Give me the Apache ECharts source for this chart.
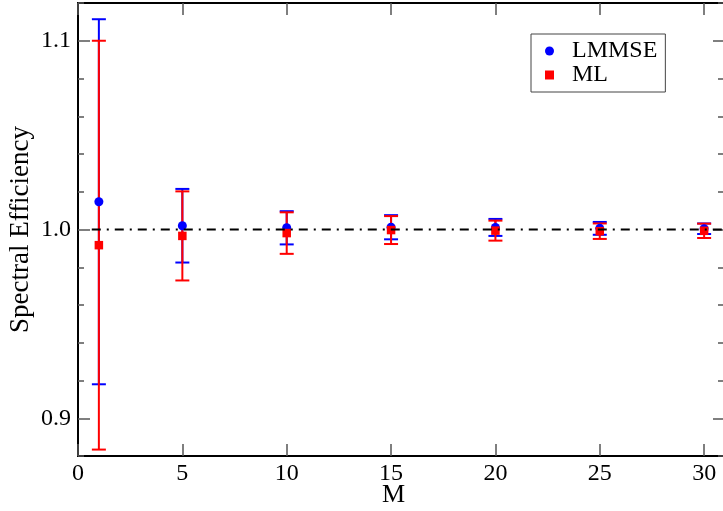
<!DOCTYPE html>
<html>
<head>
<meta charset="utf-8">
<script src="https://cdn.jsdelivr.net/npm/echarts@6/dist/echarts.min.js"></script>
<style>html,body{margin:0;padding:0;background:#fff;}#c{width:723px;height:511px;}</style>
</head>
<body>
<div id="c"></div>
<script>
// ---- data ----
const M = [1, 5, 10, 15, 20, 25, 30];
const lmmseMean = [1.0147, 1.0020, 1.0009, 1.0012, 1.0011, 1.0006, 1.0004];
const lmmseErr  = [0.0967, 0.0195, 0.0088, 0.0064, 0.0045, 0.0034, 0.0028];
const mlMean    = [0.9917, 0.9966, 0.9981, 0.9997, 0.9994, 0.9991, 0.9993];
const mlErr     = [0.1083, 0.0236, 0.0110, 0.0074, 0.0053, 0.0041, 0.0038];
const refM  = [0.66, 31];
const refSE = [1.0, 1.0];
const yTickVals = ['0.88','0.90','0.92','0.94','0.96','0.98','1.00','1.02','1.04','1.06','1.08','1.10','1.12'];
const yMajorVals = ['0.90','1.00','1.10'];
const yMajorLabels = ['0.9','1.0','1.1'];
const xTickInterval = 5;

const FONT = 'Liberation Serif';
const isMajor = (i, v) => yMajorVals.indexOf(v) >= 0;

function errRender(color) {
  return function (params, api) {
    const x = api.value(0), lo = api.value(1), hi = api.value(2);
    const pLo = api.coord([x, lo]), pHi = api.coord([x, hi]);
    const hw = 7;
    const style = { stroke: color, lineWidth: 2, fill: null };
    return {
      type: 'group',
      children: [
        { type: 'line', shape: { x1: pLo[0], y1: pLo[1], x2: pHi[0], y2: pHi[1] }, style: style },
        { type: 'line', shape: { x1: pLo[0] - hw, y1: pLo[1], x2: pLo[0] + hw, y2: pLo[1] }, style: style },
        { type: 'line', shape: { x1: pHi[0] - hw, y1: pHi[1], x2: pHi[0] + hw, y2: pHi[1] }, style: style }
      ]
    };
  };
}

const tickStyle = { color: '#555', width: 1.5 };
const frameLine = { show: true, lineStyle: { color: '#000', width: 2 } };

const chart = echarts.init(document.getElementById('c'), null, { renderer: 'canvas' });
chart.setOption({
  animation: false,
  backgroundColor: '#fff',
  grid: { left: 78, top: 3, right: -2, bottom: 55, containLabel: false, outerBoundsMode: 'none' },
  legend: {
    orient: 'vertical',
    left: 531, top: 34,
    padding: [5, 8, 5, 14],
    borderColor: '#444', borderWidth: 1,
    itemGap: 0,
    itemWidth: 9, itemHeight: 9,
    textStyle: { fontFamily: FONT, fontSize: 24, color: '#000', lineHeight: 21, padding: [0, 0, 0, 13] },
    data: [{ name: 'LMMSE', icon: 'circle' }, { name: 'ML', icon: 'rect' }]
  },
  xAxis: [
    {
      type: 'value', position: 'bottom', min: 0, max: 31, interval: xTickInterval,
      axisLine: frameLine,
      axisTick: { show: true, inside: true, length: 12, lineStyle: tickStyle },
      axisLabel: { fontFamily: FONT, fontSize: 24, color: '#000', margin: 6, showMaxLabel: false },
      splitLine: { show: false },
      name: 'M', nameLocation: 'middle', nameGap: 26, nameMoveOverlap: false,
      nameTextStyle: { fontFamily: FONT, fontSize: 26, color: '#000', padding: [0, 16, 0, 0] }
    },
    {
      type: 'value', position: 'top', min: 0, max: 31, interval: xTickInterval,
      axisLine: frameLine,
      axisTick: { show: true, inside: true, length: 12, lineStyle: tickStyle },
      axisLabel: { show: false },
      splitLine: { show: false }
    }
  ],
  yAxis: [
    {
      type: 'value', position: 'left', min: 0.88, max: 1.12, interval: 0.02,
      axisLine: frameLine,
      axisTick: { show: true, inside: true, length: 6, lineStyle: tickStyle },
      axisLabel: { show: false },
      splitLine: { show: false },
      name: 'Spectral Efficiency', nameLocation: 'middle', nameGap: 44, nameRotate: 90,
      nameTextStyle: { fontFamily: FONT, fontSize: 27, color: '#000' }
    },
    {
      type: 'category', position: 'left', boundaryGap: false, data: yTickVals,
      axisLine: frameLine,
      axisTick: { show: true, inside: true, length: 12, interval: isMajor, lineStyle: tickStyle },
      axisLabel: {
        interval: isMajor, margin: 7,
        fontFamily: FONT, fontSize: 24, color: '#000',
        formatter: v => yMajorLabels[yMajorVals.indexOf(v)]
      },
      splitLine: { show: false }
    },
    {
      type: 'value', position: 'right', min: 0.88, max: 1.12, interval: 0.02,
      axisLine: frameLine,
      axisTick: { show: true, inside: true, length: 7, lineStyle: tickStyle },
      axisLabel: { show: false },
      splitLine: { show: false }
    },
    {
      type: 'category', position: 'right', boundaryGap: false, data: yTickVals,
      axisLine: frameLine,
      axisTick: { show: true, inside: true, length: 12, interval: isMajor, lineStyle: tickStyle },
      axisLabel: { show: false },
      splitLine: { show: false }
    }
  ],
  series: [
    {
      name: 'ref', type: 'line', xAxisIndex: 0, yAxisIndex: 0,
      data: refM.map((m, i) => [m, refSE[i]]),
      symbol: 'none', silent: true,
      lineStyle: { color: '#000', width: 2, type: [9, 6, 2, 6] }
    },
    {
      name: 'LMMSE err', type: 'custom', xAxisIndex: 0, yAxisIndex: 0,
      renderItem: errRender('#0000ff'),
      encode: { x: 0, y: [1, 2] },
      data: M.map((m, i) => [m, lmmseMean[i] - lmmseErr[i], lmmseMean[i] + lmmseErr[i]])
    },
    {
      name: 'ML err', type: 'custom', xAxisIndex: 0, yAxisIndex: 0,
      renderItem: errRender('#ff0000'),
      encode: { x: 0, y: [1, 2] },
      data: M.map((m, i) => [m, mlMean[i] - mlErr[i], mlMean[i] + mlErr[i]])
    },
    {
      name: 'LMMSE', type: 'scatter', xAxisIndex: 0, yAxisIndex: 0,
      symbol: 'circle', symbolSize: 9,
      itemStyle: { color: '#0000ff', opacity: 1 },
      data: M.map((m, i) => [m, lmmseMean[i]])
    },
    {
      name: 'ML', type: 'scatter', xAxisIndex: 0, yAxisIndex: 0,
      symbol: 'rect', symbolSize: 8.5,
      itemStyle: { color: '#ff0000', opacity: 1 },
      data: M.map((m, i) => [m, mlMean[i]])
    }
  ]
});
</script>
</body>
</html>
